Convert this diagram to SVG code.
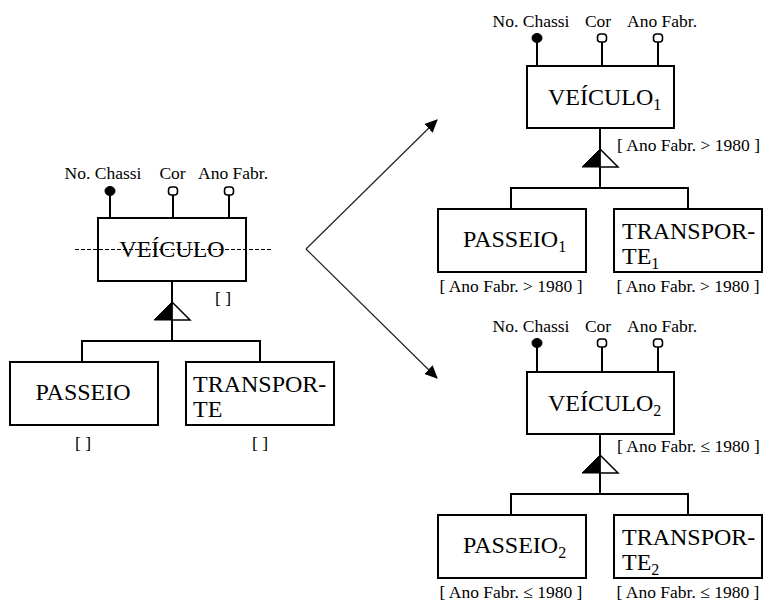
<svg xmlns="http://www.w3.org/2000/svg" width="771" height="603" viewBox="0 0 771 603">
<style>
  .box{fill:#fff;stroke:#000;stroke-width:2}
  .ln{fill:none;stroke:#000;stroke-width:2}
  .thin{fill:none;stroke:#222;stroke-width:1.2}
  .dot{fill:#000;stroke:#000;stroke-width:1}
  .od{fill:#fff;stroke:#000;stroke-width:1.6}
  .big{font-family:"Liberation Serif","Times New Roman",serif;font-size:24px;fill:#000}
  .sm{font-family:"Liberation Serif","Times New Roman",serif;font-size:17.5px;fill:#000}
  .sub{font-size:16px}
  .mid{text-anchor:middle}
  .tri{fill:#000;stroke:#000;stroke-width:1}
  .trio{fill:#fff;stroke:#000;stroke-width:1.5}
</style>
<defs>
  <marker id="ah" markerUnits="userSpaceOnUse" markerWidth="13" markerHeight="12" viewBox="0 0 13 12" refX="12" refY="6" orient="auto">
    <path d="M0,0 L13,6 L0,12 z" fill="#000"/>
  </marker>
</defs>

<!-- LEFT: original schema -->
<g id="veiculo">
  <text class="sm mid" x="103" y="179">No. Chassi</text>
  <text class="sm mid" x="172.5" y="179">Cor</text>
  <text class="sm mid" x="233" y="179">Ano Fabr.</text>
  <line class="ln" x1="110" y1="191" x2="110" y2="218"/>
  <line class="ln" x1="173" y1="195" x2="173" y2="218"/>
  <line class="ln" x1="229" y1="195" x2="229" y2="218"/>
  <ellipse class="dot" cx="110" cy="191" rx="5" ry="4.5"/>
  <rect class="od" x="168.5" y="187" width="9" height="8" rx="3"/>
  <rect class="od" x="224.5" y="187" width="9" height="8" rx="3"/>
  <rect class="box" x="98" y="218" width="148" height="63"/>
  <text class="big mid" x="172" y="257">VEÍCULO</text>
  <line x1="75" y1="249.5" x2="272" y2="249.5" stroke="#000" stroke-width="1" stroke-dasharray="4,2"/>
  <text class="sm mid" x="223" y="304" xml:space="preserve">[ ]</text>
</g>
<g id="passeio">
  <rect class="box" x="10" y="362" width="148" height="63"/>
  <text class="big mid" x="83" y="400">PASSEIO</text>
  <text class="sm mid" x="83" y="449" xml:space="preserve">[ ]</text>
</g>
<g id="transporte">
  <rect class="box" x="186" y="362" width="148" height="63"/>
  <text class="big" x="193" y="392">TRANSPOR-</text>
  <text class="big" x="193" y="417">TE</text>
  <text class="sm mid" x="260" y="449" xml:space="preserve">[ ]</text>
</g>

<!-- RIGHT TOP -->
<g id="veiculo1">
  <text class="sm mid" x="531" y="27">No. Chassi</text>
  <text class="sm mid" x="598" y="27">Cor</text>
  <text class="sm mid" x="662" y="27">Ano Fabr.</text>
  <line class="ln" x1="537" y1="38" x2="537" y2="66"/>
  <line class="ln" x1="602" y1="42" x2="602" y2="66"/>
  <line class="ln" x1="658" y1="42" x2="658" y2="66"/>
  <ellipse class="dot" cx="537" cy="38" rx="5" ry="4.5"/>
  <rect class="od" x="597.5" y="34" width="9" height="8" rx="3"/>
  <rect class="od" x="653.5" y="34" width="9" height="8" rx="3"/>
  <rect class="box" x="527" y="66" width="147" height="62"/>
  <text class="big" x="548" y="105">VEÍCULO<tspan class="sub" dy="5">1</tspan></text>
  <text class="sm" x="617" y="151">[ Ano Fabr. &gt; 1980 ]</text>
</g>
<g id="passeio1">
  <rect class="box" x="438" y="209" width="148" height="63"/>
  <text class="big" x="463" y="247">PASSEIO<tspan class="sub" dy="5">1</tspan></text>
  <text class="sm mid" x="511" y="292">[ Ano Fabr. &gt; 1980 ]</text>
</g>
<g id="transporte1">
  <rect class="box" x="614" y="209" width="148" height="63"/>
  <text class="big" x="622" y="239">TRANSPOR-</text>
  <text class="big" x="622" y="264">TE<tspan class="sub" dy="5">1</tspan></text>
  <text class="sm mid" x="688" y="292">[ Ano Fabr. &gt; 1980 ]</text>
</g>

<!-- RIGHT BOTTOM -->
<g id="veiculo2">
  <text class="sm mid" x="531" y="332">No. Chassi</text>
  <text class="sm mid" x="598" y="332">Cor</text>
  <text class="sm mid" x="662" y="332">Ano Fabr.</text>
  <line class="ln" x1="537" y1="343" x2="537" y2="372"/>
  <line class="ln" x1="602" y1="347" x2="602" y2="372"/>
  <line class="ln" x1="658" y1="347" x2="658" y2="372"/>
  <ellipse class="dot" cx="537" cy="343" rx="5" ry="4.5"/>
  <rect class="od" x="597.5" y="339" width="9" height="8" rx="3"/>
  <rect class="od" x="653.5" y="339" width="9" height="8" rx="3"/>
  <rect class="box" x="527" y="372" width="147" height="62"/>
  <text class="big" x="548" y="411">VEÍCULO<tspan class="sub" dy="5">2</tspan></text>
  <text class="sm" x="617" y="452">[ Ano Fabr. ≤ 1980 ]</text>
</g>
<g id="passeio2">
  <rect class="box" x="438" y="515" width="148" height="63"/>
  <text class="big" x="463" y="553">PASSEIO<tspan class="sub" dy="5">2</tspan></text>
  <text class="sm mid" x="511" y="598">[ Ano Fabr. ≤ 1980 ]</text>
</g>
<g id="transporte2">
  <rect class="box" x="614" y="515" width="148" height="63"/>
  <text class="big" x="622" y="545">TRANSPOR-</text>
  <text class="big" x="622" y="570">TE<tspan class="sub" dy="5">2</tspan></text>
  <text class="sm mid" x="688" y="598">[ Ano Fabr. ≤ 1980 ]</text>
</g>

<!-- CONNECTORS -->
<g id="connectors">
  <!-- left specialization -->
  <line class="ln" x1="172" y1="281" x2="172" y2="341"/>
  <polyline class="ln" points="82,362 82,341 260,341 260,362"/>
  <polygon class="trio" points="172,302 190,320 172,320"/>
  <polygon class="tri" points="172,302 154,320 172,320"/>
  <!-- top right specialization -->
  <line class="ln" x1="600" y1="128" x2="600" y2="188"/>
  <polyline class="ln" points="511,209 511,188 688,188 688,209"/>
  <polygon class="trio" points="600,149 618,167 600,167"/>
  <polygon class="tri" points="600,149 582,167 600,167"/>
  <!-- bottom right specialization -->
  <line class="ln" x1="600" y1="434" x2="600" y2="494"/>
  <polyline class="ln" points="511,515 511,494 688,494 688,515"/>
  <polygon class="trio" points="600,455 618,473 600,473"/>
  <polygon class="tri" points="600,455 582,473 600,473"/>
  <!-- transformation arrows -->
  <line class="thin" x1="306" y1="249" x2="437" y2="120" marker-end="url(#ah)"/>
  <line class="thin" x1="306" y1="249" x2="437" y2="378" marker-end="url(#ah)"/>
</g>
</svg>
